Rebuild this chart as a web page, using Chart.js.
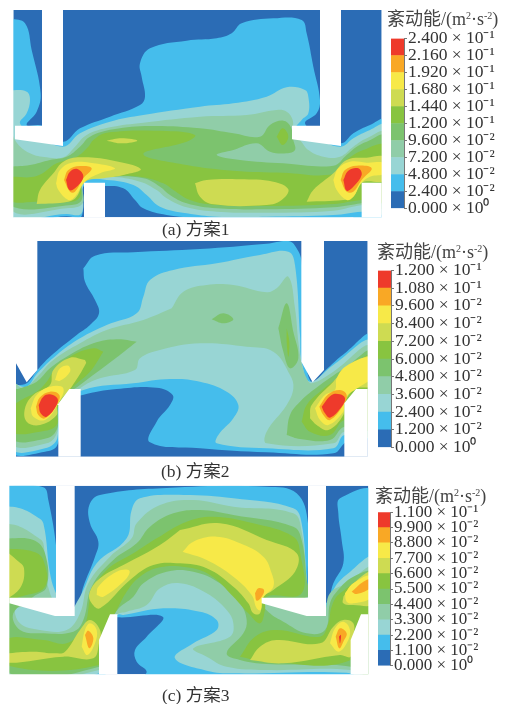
<!DOCTYPE html>
<html>
<head>
<meta charset="utf-8">
<script src="https://cdn.jsdelivr.net/npm/chart.js@4"></script>
<style>
  html, body { margin: 0; padding: 0; background: #fff; }
  body { position: relative; width: 511px; height: 704px; overflow: hidden; }
  canvas { position: absolute; }
  .txt { position: absolute; white-space: nowrap; color: #333; z-index: 5; line-height: 1;
         font-family: "Liberation Serif", "Noto Sans CJK SC", serif; }
  .txt sup { font-size: 10px; line-height: 0; vertical-align: 6px; }
  .cap { font-size: 17.5px; }
  .head { font-size: 18px; color: #444; }
</style>
</head>
<body>
<div class="txt head" style="left:387px;top:10px">紊动能/(m<sup>2</sup>·s<sup>-2</sup>)</div>
<div class="txt head" style="left:377px;top:243px">紊动能/(m<sup>2</sup>·s<sup>-2</sup>)</div>
<div class="txt head" style="left:375px;top:487px">紊动能/(m<sup>2</sup>·s<sup>-2</sup>)</div>
<div class="txt cap" style="left:162px;top:221px">(a) 方案1</div>
<div class="txt cap" style="left:161px;top:463px">(b) 方案2</div>
<div class="txt cap" style="left:162px;top:687px">(c) 方案3</div>
<script>
// band colours, lowest to highest
const bandColors = ['#2b6cb5', '#45bdec', '#98d5d4', '#90cda8', '#7cc36e', '#88c440', '#cedb52', '#f7e948', '#f9a825', '#ee3a2b'];

// colour bar levels and their tick labels
const levelsA = [0, 0.024, 0.048, 0.072, 0.096, 0.12, 0.144, 0.168, 0.192, 0.216, 0.24];
const labelsA = ['0.000 × 10⁰', '2.400 × 10⁻²', '4.800 × 10⁻²', '7.200 × 10⁻²', '9.600 × 10⁻²', '1.200 × 10⁻¹', '1.440 × 10⁻¹', '1.680 × 10⁻¹', '1.920 × 10⁻¹', '2.160 × 10⁻¹', '2.400 × 10⁻¹'];
const levelsB = [0, 0.012, 0.024, 0.036, 0.048, 0.06, 0.072, 0.084, 0.096, 0.108, 0.12];
const labelsB = ['0.000 × 10⁰', '1.200 × 10⁻²', '2.400 × 10⁻²', '3.600 × 10⁻²', '4.800 × 10⁻²', '6.000 × 10⁻²', '7.200 × 10⁻²', '8.400 × 10⁻²', '9.600 × 10⁻²', '1.080 × 10⁻¹', '1.200 × 10⁻¹'];
const levelsC = [0, 0.011, 0.022, 0.033, 0.044, 0.055, 0.066, 0.077, 0.088, 0.099, 0.11];
const labelsC = ['0.000 × 10⁰', '1.100 × 10⁻²', '2.200 × 10⁻²', '3.300 × 10⁻²', '4.400 × 10⁻²', '5.500 × 10⁻²', '6.600 × 10⁻²', '7.700 × 10⁻²', '8.800 × 10⁻²', '9.900 × 10⁻²', '1.100 × 10⁻¹'];

const aBand0 = [[40,30, 1145,30, 1145,652, 40,652]];
const aBand1 = [[30,55, 75,70, 95,150, 122,280, 110,335, 80,375, 126,377, 189,425, 240,385, 330,350, 420,315, 435,290, 425,230, 420,190, 450,145, 560,122, 650,115, 695,100, 725,70, 820,55, 905,60, 920,100, 940,200, 960,300, 950,340, 915,370, 960,400, 1023,430, 1060,400, 1110,375, 1155,360, 1155,665, 1060,655, 1060,652, 800,665, 600,654, 500,645, 430,625, 405,600, 370,565, 315,558, 250,560, 245,648, 200,649, 30,649]];
const aBand2 = [[30,270, 80,275, 90,300, 80,340, 60,370, 100,400, 189,440, 240,400, 330,365, 430,345, 600,320, 700,310, 800,290, 860,262, 915,270, 925,290, 925,340, 905,360, 890,385, 960,420, 1023,440, 1060,415, 1110,390, 1155,376, 1155,635, 1085,635, 1000,645, 800,650, 650,650, 560,640, 480,620, 440,585, 400,555, 320,540, 255,545, 245,640, 200,642, 30,640]];
const aBand3 = [[30,375, 48,425, 90,460, 140,472, 190,472, 225,440, 260,405, 330,382, 430,368, 600,350, 740,345, 830,330, 860,335, 878,360, 880,400, 900,420, 925,450, 970,470, 1020,470, 1060,440, 1100,415, 1155,398, 1155,620, 1090,615, 1000,632, 800,638, 650,635, 560,622, 500,595, 470,570, 420,545, 330,530, 250,540, 248,610, 200,625, 30,625]];
const aBand4 = [[30,500, 90,495, 150,480, 200,470, 240,440, 270,410, 340,388, 450,378, 600,385, 700,400, 780,410, 810,375, 850,362, 872,380, 880,420, 885,450, 860,460, 810,455, 770,430, 700,450, 650,465, 720,480, 850,490, 1000,497, 1040,465, 1070,440, 1100,425, 1155,408, 1155,600, 1085,610, 1000,622, 800,628, 650,625, 560,610, 510,585, 480,560, 430,535, 330,530, 250,540, 245,600, 215,615, 30,615]];
const aBand5 = [[30,530, 110,528, 170,490, 230,470, 265,440, 280,420, 320,398, 500,393, 585,405, 560,425, 430,462, 560,495, 700,512, 850,518, 1000,522, 1040,480, 1090,450, 1155,438, 1155,600, 1085,600, 1000,612, 800,618, 650,615, 570,600, 520,570, 490,550, 420,530, 330,530, 250,540, 240,590, 215,605, 110,605, 30,600],
  [830,410, 848,385, 865,410, 848,435]];
const aBand6 = [[110,612, 120,570, 160,520, 190,485, 240,472, 330,480, 422,507, 370,525, 310,535, 255,545, 230,590, 205,605],
  [320,422, 365,415, 412,422, 365,430],
  [585,550, 620,540, 720,538, 820,545, 865,568, 845,600, 800,615, 640,613, 600,590],
  [920,605, 940,570, 1000,520, 1040,480, 1100,473, 1155,473, 1155,540, 1085,548, 1060,590, 1030,600]];
const aBand7 = [[168,550, 180,510, 215,488, 270,488, 345,505, 300,520, 255,545, 225,590, 205,600, 175,570],
  [1000,540, 1015,505, 1050,485, 1100,488, 1155,490, 1155,520, 1110,530, 1085,548, 1060,590, 1040,600, 1010,570]];
const aBand8 = [[192,540, 205,510, 240,498, 275,505, 250,535, 225,575, 210,575],
  [1022,540, 1035,510, 1070,497, 1115,505, 1085,540, 1060,575, 1040,575]];
const aBand9 = [[198,540, 210,515, 232,507, 250,530, 225,565, 208,570],
  [1030,540, 1045,512, 1075,505, 1085,525, 1060,560, 1040,572]];
const aWalls = [[0,0, 1170,0, 1170,30, 0,30], [0,652, 1170,652, 1170,720, 0,720], [0,0, 40,0, 40,720, 0,720], [1145,0, 1170,0, 1170,720, 1145,720],
  [126,30, 189,30, 189,438, 45,418, 45,377, 126,377],
  [960,30, 1023,30, 1023,438, 876,418, 876,377, 960,377],
  [252,548, 315,548, 315,652, 252,652],
  [1085,548, 1145,548, 1145,652, 1085,652]];

const bBand0 = [[48,18, 1103,18, 1103,665, 48,665]];
const bBand1 = [[250,100, 285,62, 400,52, 600,42, 800,26, 865,18, 885,32, 905,80, 920,400, 940,445, 972,410, 1040,350, 1115,300, 1115,600, 1040,620, 1000,655, 800,652, 600,640, 450,622, 470,560, 510,510, 518,480, 470,458, 350,462, 248,480, 200,500, 172,630, 135,650, 35,650, 35,460, 80,445, 112,405, 150,365, 230,300, 270,270, 297,235, 285,195, 255,140]];
const bBand2 = [[430,185, 450,135, 520,105, 650,85, 780,60, 865,50, 885,90, 900,300, 905,380, 930,440, 1000,390, 1115,320, 1115,600, 1033,600, 1000,640, 800,640, 650,625, 655,600, 700,550, 715,510, 680,470, 600,440, 510,432, 400,445, 250,465, 172,520, 172,610, 135,640, 35,640, 35,450, 80,455, 112,415, 170,360, 240,310, 320,270, 410,235]];
const bBand3 = [[515,220, 550,170, 620,150, 700,150, 800,172, 830,160, 865,125, 885,220, 895,320, 905,385, 920,430, 935,445, 1000,410, 1115,335, 1115,600, 1033,590, 1000,625, 800,625, 800,590, 860,510, 880,460, 870,420, 820,350, 740,335, 600,325, 480,345, 420,370, 405,405, 300,430, 240,460, 172,520, 172,590, 140,625, 35,625, 35,440, 70,460, 112,425, 160,375, 240,325, 320,285, 430,255]];
const bBand4 = [[410,320, 350,313, 280,325, 200,365, 150,400, 110,440, 60,460, 35,470, 35,610, 140,610, 172,580, 180,500, 240,450, 340,375],
  [835,280, 860,205, 880,290, 895,370, 870,400, 850,350],
  [635,253, 670,235, 700,253, 670,265],
  [860,600, 870,540, 900,500, 960,450, 1040,395, 1115,350, 1115,580, 1033,575, 990,615, 900,612]];
const bBand5 = [[310,350, 280,340, 210,365, 160,410, 140,440, 110,470, 55,500, 35,520, 35,590, 120,590, 170,570, 172,520, 215,460, 270,410],
  [860,280, 868,320, 865,365, 860,320],
  [905,560, 920,510, 960,470, 1040,410, 1115,362, 1115,560, 1033,555, 990,600, 930,590]];
const bBand6 = [[255,375, 210,368, 160,405, 150,450, 100,480, 75,520, 80,560, 120,570, 170,540, 172,510, 215,455, 258,385],
  [930,550, 935,510, 1000,440, 1040,400, 1115,365, 1115,450, 1065,462, 1033,505, 1030,540, 985,585, 950,570]];
const bBand7 = [[165,435, 180,400, 205,392, 210,410, 180,437],
  [92,520, 110,480, 150,455, 190,460, 172,510, 135,555, 100,545],
  [945,520, 975,480, 1005,465, 1010,430, 1040,392, 1115,368, 1115,425, 1068,462, 1045,478, 1033,505, 1030,530, 985,570, 960,555]];
const bBand8 = [[108,515, 120,487, 150,470, 178,480, 170,510, 135,550, 115,540],
  [958,515, 985,478, 1020,465, 1040,480, 1030,510, 990,555, 970,540]];
const bBand9 = [[116,510, 130,485, 150,478, 172,490, 170,510, 140,545, 122,535],
  [965,515, 995,480, 1020,478, 1035,490, 1025,515, 990,548, 975,535]];
const bWalls = [[0,0, 1140,0, 1140,18, 0,18], [0,665, 1140,665, 1140,735, 0,735], [0,0, 48,0, 48,735, 0,735], [1103,0, 1140,0, 1140,735, 1103,735],
  [48,18, 112,18, 112,405, 80,442, 48,385],
  [904,18, 972,18, 972,405, 938,442, 904,380],
  [172,510, 208,462, 242,462, 242,665, 175,665, 175,510],
  [1033,505, 1068,462, 1103,462, 1103,665, 1033,665]];

const cBand0 = [[28,17, 1105,17, 1105,583, 28,583]];
const cBand1 = [[15,15, 130,22, 145,60, 170,210, 180,360, 226,405, 250,320, 285,230, 295,185, 270,130, 268,75, 300,45, 500,24, 800,20, 890,40, 924,130, 930,360, 978,370, 1000,310, 1030,250, 1025,180, 1015,100, 1020,55, 1120,38, 1120,600, 420,600, 440,575, 410,545, 405,510, 440,470, 488,410, 352,412, 340,400, 300,600, 15,600]];
const cBand2 = [[15,78, 60,85, 110,110, 130,130, 150,280, 168,340, 200,400, 240,350, 290,250, 380,175, 395,90, 420,55, 550,45, 700,55, 880,85, 905,130, 920,300, 924,350, 980,400, 1000,330, 1045,280, 1120,235, 1120,600, 1040,578, 700,580, 620,572, 525,535, 580,490, 650,450, 650,420, 600,395, 490,385, 370,405, 352,405, 297,480, 297,580, 15,580]];
const cBand3 = [[15,130, 60,140, 110,170, 130,190, 135,280, 150,340, 160,380, 50,385, 60,430, 120,450, 200,450, 240,400, 265,310, 330,230, 395,175, 410,130, 480,75, 580,60, 700,80, 880,100, 905,155, 920,300, 924,355, 970,400, 990,340, 1040,310, 1120,265, 1120,600, 1052,570, 800,570, 680,560, 620,530, 580,505, 690,470, 700,430, 680,390, 620,340, 540,310, 480,325, 440,375, 380,395, 350,405, 297,500, 297,570, 15,570]];
const cBand4 = [[15,175, 100,180, 135,220, 140,320, 100,350, 40,400, 60,450, 130,460, 220,455, 250,420, 275,320, 340,240, 410,190, 450,140, 520,100, 600,90, 700,105, 880,140, 905,180, 920,300, 924,350, 780,360, 810,400, 850,425, 920,460, 975,450, 990,370, 1010,335, 1060,290, 1120,280, 1120,600, 1052,560, 800,552, 720,540, 680,520, 730,460, 740,420, 720,370, 660,310, 580,275, 500,275, 430,310, 400,350, 352,390, 297,490, 297,560, 15,565]];
const cBand5 = [[262,410, 275,340, 320,270, 400,220, 470,175, 560,125, 640,110, 760,130, 880,170, 900,215, 905,340, 800,350, 795,390, 780,430, 745,400, 700,350, 630,285, 560,262, 480,262, 420,290, 380,335, 345,400, 300,480, 297,555, 15,555, 15,480, 130,480, 200,490, 250,445],
  [15,205, 100,215, 130,240, 135,320, 60,350, 15,360],
  [720,530, 765,470, 830,450, 960,470, 985,430, 995,380, 1020,340, 1120,285, 1120,410, 1052,540, 800,545]];
const cBand6 = [[540,150, 660,130, 800,180, 890,220, 885,275, 820,330, 790,352, 780,400, 760,400, 745,370, 700,320, 620,265, 540,250, 460,255, 390,300, 300,385, 275,370, 268,340, 300,295, 380,250, 480,195],
  [15,210, 50,240, 72,265, 60,325, 15,350],
  [15,520, 100,515, 165,520, 195,515, 240,450, 270,420, 300,450, 297,490, 280,535, 190,530, 15,548],
  [750,540, 780,500, 830,480, 960,490, 1000,440, 1030,420, 1060,430, 1060,470, 1052,530, 1020,525, 850,550],
  [1030,350, 1060,310, 1120,275, 1120,370, 1060,375, 1030,370]];
const cBand7 = [[548,215, 580,185, 650,170, 720,190, 790,230, 815,280, 820,320, 790,352, 782,390, 770,385, 755,345, 700,290, 620,240],
  [290,345, 295,320, 350,275, 388,272, 375,300, 310,350],
  [990,490, 1005,445, 1030,425, 1050,450, 1040,490, 1015,515],
  [245,500, 255,450, 270,430, 290,450, 285,490, 262,525],
  [1035,340, 1060,310, 1115,288, 1115,350, 1060,370, 1040,365]];
const cBand8 = [[765,340, 775,325, 792,330, 785,350, 770,362],
  [255,465, 265,452, 280,475, 268,505],
  [1007,470, 1020,445, 1040,460, 1030,485, 1018,505],
  [1055,335, 1090,305, 1115,298, 1115,320, 1070,342]];
const cBand9 = [[1017,470, 1023,465, 1020,490]];
const cWalls = [[0,0, 1140,0, 1140,17, 0,17], [0,583, 1140,583, 1140,672, 0,672], [0,0, 28,0, 28,672, 0,672], [1105,0, 1140,0, 1140,672, 1105,672],
  [168,17, 224,17, 224,408, 165,408, 28,370, 28,353, 168,353],
  [924,17, 978,17, 978,408, 920,408, 785,370, 785,353, 924,353],
  [330,403, 352,403, 352,583, 297,583, 297,480],
  [1052,480, 1083,403, 1105,403, 1105,583, 1052,583]];

function outline(flat, color, tension) {
  let pts = [];
  for (let i = 0; i < flat.length; i += 2) pts.push({ x: flat[i], y: flat[i + 1] });
  pts.push(pts[0]);
  return { data: pts, fill: 'shape', backgroundColor: color, borderWidth: 0, pointRadius: 0, tension: tension };
}

function addCanvas(left, top, w, h, z) {
  let c = document.createElement('canvas');
  c.width = w; c.height = h;
  c.style.left = left + 'px'; c.style.top = top + 'px';
  c.style.width = w + 'px'; c.style.height = h + 'px';
  c.style.zIndex = z;
  document.body.appendChild(c);
  return c;
}

// one contour panel: the x and y scales run in the units the outlines were read in
function contourPanel(left, top, w, h, bands, walls) {
  let datasets = [];
  bands.forEach((polys, i) => polys.forEach(p => datasets.push(outline(p, bandColors[i], i === 0 ? 0 : 0.4))));
  walls.forEach(p => datasets.push(outline(p, '#ffffff', 0)));
  // later datasets paint over earlier ones
  datasets.forEach((d, i) => { d.order = datasets.length - i; });
  let canvas = addCanvas(left, top, w, h, 1);
  canvas.style.filter = 'blur(0.4px)';
  new Chart(canvas, {
    type: 'line',
    data: { datasets: datasets },
    options: {
      responsive: false, animation: false, devicePixelRatio: 1,
      layout: { padding: 0 },
      plugins: { legend: { display: false }, tooltip: { enabled: false } },
      scales: {
        x: { type: 'linear', min: 0, max: w * 3, display: false },
        y: { type: 'linear', min: 0, max: h * 3, reverse: true, display: false }
      }
    }
  });
}

// colour bar: stacked bar with one column, levels as ticks on the right
function colorBar(left, top, barW, levels, labels, h, fontSize) {
  let datasets = bandColors.map((col, i) => ({
    data: [levels[i + 1] - levels[i]], backgroundColor: col, borderWidth: 0,
    barPercentage: 1, categoryPercentage: 1
  }));
  let w = 511 - left;
  new Chart(addCanvas(left, top, w, h, 3), {
    type: 'bar',
    data: { labels: [''], datasets: datasets },
    options: {
      responsive: false, animation: false, devicePixelRatio: 1,
      layout: { padding: { top: 10, bottom: 10, left: 0, right: 0 } },
      plugins: { legend: { display: false }, tooltip: { enabled: false } },
      scales: {
        x: { stacked: true, display: false },
        y: {
          stacked: true, position: 'right', min: 0, max: levels[levels.length - 1],
          afterBuildTicks: s => { s.ticks = levels.map(v => ({ value: v })); },
          afterFit: s => { s.width = w - barW; },
          grid: { display: true, drawOnChartArea: false, tickLength: 3, color: '#777' },
          border: { display: true, color: '#777' },
          ticks: {
            autoSkip: false, padding: 1, color: '#333', maxRotation: 0,
            font: { family: '"Liberation Serif"', size: fontSize },
            callback: (v, i) => labels[i]
          }
        }
      }
    }
  });
}

contourPanel(0, 0, 390, 240, [aBand0, aBand1, aBand2, aBand3, aBand4, aBand5, aBand6, aBand7, aBand8, aBand9], aWalls);
contourPanel(0, 235, 380, 245, [bBand0, bBand1, bBand2, bBand3, bBand4, bBand5, bBand6, bBand7, bBand8, bBand9], bWalls);
contourPanel(0, 480, 380, 224, [cBand0, cBand1, cBand2, cBand3, cBand4, cBand5, cBand6, cBand7, cBand8, cBand9], cWalls);

colorBar(391, 27, 13, levelsA, labelsA, 193, 17.5);
colorBar(378, 259, 13, levelsB, labelsB, 200, 17.5);
colorBar(378, 501, 12, levelsC, labelsC, 176, 17);
</script>
</body>
</html>
